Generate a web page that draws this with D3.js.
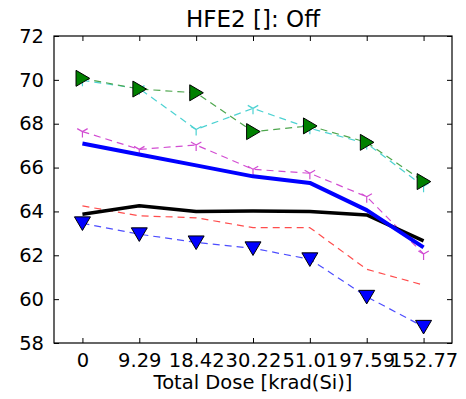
<!DOCTYPE html>
<html>
<head>
<meta charset="utf-8">
<script src="https://cdn.jsdelivr.net/npm/d3@7"></script>
<style>
  body { margin: 0; background: #fff; }
  text { font-family: "DejaVu Sans", sans-serif; fill: #000; }
</style>
</head>
<body>
<div id="chart"></div>
<script>
// dose steps (categorical x)
let doses = ["0", "9.29", "18.42", "30.22", "51.01", "97.59", "152.77"];
let yTicks = [58, 60, 62, 64, 66, 68, 70, 72];

// series
let greenTri = [70.07, 69.58, 69.41, 67.64, 67.9, 67.15, 65.36];
let cyanY = [69.98, 69.6, 67.74, 68.7, 67.79, 67.1, 65.15];
let magentaY = [67.64, 66.83, 67.03, 65.92, 65.74, 64.67, 62.06];
let blueMean = [67.1, 66.6, 66.1, 65.6, 65.3, 64.06, 62.36];
let blackMean = [63.87, 64.26, 64.0, 64.02, 64.0, 63.84, 62.66];
let redDash = [64.25, 63.8, 63.71, 63.26, 63.26, 61.36, 60.64];
let blueTri = [63.46, 62.96, 62.59, 62.32, 61.82, 60.11, 58.74];

let series = [
  { vals: redDash, color: "#ff4d4d", width: 1.2, dash: "7,5", marker: null },
  { vals: blueTri, color: "#4d4dff", width: 1.2, dash: "7,5", marker: "tridown", fill: "#0000ff" },
  { vals: magentaY, color: "#d24dd2", width: 1.2, dash: "7,5", marker: "Y" },
  { vals: cyanY, color: "#4dd2d2", width: 1.2, dash: "7,5", marker: "Y" },
  { vals: greenTri, color: "#4da64d", width: 1.2, dash: "7,5", marker: "triright", fill: "#008000" },
  { vals: blackMean, color: "#000", width: 3.5, dash: null, marker: null },
  { vals: blueMean, color: "#0000ff", width: 4, dash: null, marker: null }
];

let W = 466, H = 399;
let margin = { TOP: 36, BOTTOM: 56, LEFT: 54, RIGHT: 14 };
let w = W - margin.LEFT - margin.RIGHT;
let h = H - margin.TOP - margin.BOTTOM;

let svg = d3.select("#chart").append("svg")
  .attr("width", W).attr("height", H)
  .append("g")
  .attr("transform", `translate(${margin.LEFT}, ${margin.TOP})`);

let xScale = d3.scaleLinear().domain([-0.5, doses.length - 0.5]).range([0, w]);
let yScale = d3.scaleLinear().domain([58, 72]).range([h, 0]);

//axes (ticks inward on all four sides)
let tickLen = 5;
svg.append("g").attr("transform", `translate(0, ${h})`)
  .call(d3.axisBottom(xScale).tickValues(d3.range(doses.length)).tickFormat(i => doses[i])
    .tickSizeInner(-tickLen).tickSizeOuter(0).tickPadding(10))
  .call(g => g.select(".domain").remove())
  .selectAll("text").style("font-size", "19.5px");

svg.append("g")
  .call(d3.axisTop(xScale).tickValues(d3.range(doses.length)).tickFormat("")
    .tickSizeInner(-tickLen).tickSizeOuter(0))
  .call(g => g.select(".domain").remove());

svg.append("g")
  .call(d3.axisLeft(yScale).tickValues(yTicks).tickFormat(d3.format("d"))
    .tickSizeInner(-tickLen).tickSizeOuter(0).tickPadding(10))
  .call(g => g.select(".domain").remove())
  .selectAll("text").style("font-size", "19.5px");

svg.append("g").attr("transform", `translate(${w}, 0)`)
  .call(d3.axisRight(yScale).tickValues(yTicks).tickFormat("")
    .tickSizeInner(-tickLen).tickSizeOuter(0))
  .call(g => g.select(".domain").remove());

svg.selectAll(".tick line").attr("stroke", "#000").attr("stroke-width", 1);

// lines
let line = d3.line().x((d, i) => xScale(i)).y(d => yScale(d));

series.forEach(s => {
  svg.append("path")
    .datum(s.vals)
    .attr("fill", "none")
    .attr("stroke", s.color)
    .attr("stroke-width", s.width)
    .attr("stroke-dasharray", s.dash)
    .attr("stroke-linejoin", "round")
    .attr("d", line);

  if (s.marker === "tridown" || s.marker === "triright") {
    let r = 8;
    let pts = s.marker === "tridown"
      ? [[-r, -r * 0.8], [r, -r * 0.8], [0, r * 0.9]]
      : [[-r * 0.8, -r], [-r * 0.8, r], [r * 0.9, 0]];
    svg.selectAll(null).data(s.vals).enter()
      .append("path")
      .attr("transform", (d, i) => `translate(${xScale(i)}, ${yScale(d)})`)
      .attr("d", d3.line()(pts) + "Z")
      .attr("fill", s.fill)
      .attr("stroke", "#000")
      .attr("stroke-width", 1);
  } else if (s.marker === "Y") {
    let r = 6;
    svg.selectAll(null).data(s.vals).enter()
      .append("path")
      .attr("transform", (d, i) => `translate(${xScale(i)}, ${yScale(d)})`)
      .attr("d", `M0,0L0,${r}M0,0L${-r * 0.87},${-r * 0.5}M0,0L${r * 0.87},${-r * 0.5}`)
      .attr("fill", "none")
      .attr("stroke", s.color)
      .attr("stroke-width", 1.2);
  }
});

// frame
svg.append("rect")
  .attr("width", w).attr("height", h)
  .attr("fill", "none").attr("stroke", "#000").attr("stroke-width", 1.2);

// title + axis label
svg.append("text")
  .attr("x", w / 2).attr("y", -9)
  .attr("text-anchor", "middle")
  .style("font-size", "23px")
  .text("HFE2 []: Off");

svg.append("text")
  .attr("x", w / 2).attr("y", h + 46)
  .attr("text-anchor", "middle")
  .style("font-size", "19.5px")
  .text("Total Dose [krad(Si)]");
</script>
</body>
</html>
